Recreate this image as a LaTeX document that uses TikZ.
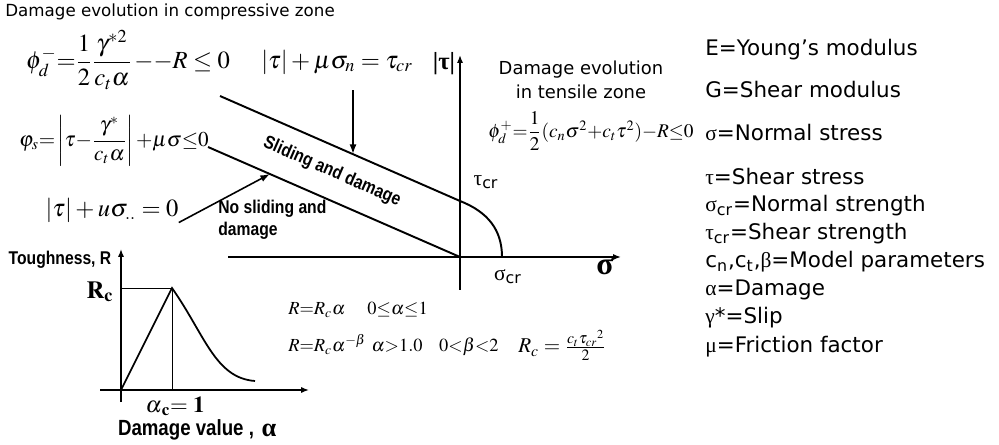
\documentclass[tikz,border=0pt]{standalone}
\usepackage{amsmath}
\usepackage{mathptmx}
\usepackage[no-math]{fontspec}
\setmainfont{Liberation Serif}
\newfontfamily\verdfont{DejaVu Sans}
\newfontfamily\grkfont{Liberation Serif}
\newfontfamily\blkfont[FakeStretch=0.85]{Liberation Sans}
\usepackage{tikz}
\usetikzlibrary{arrows.meta, positioning, calc}
\newcommand{\sbcr}{\textsubscript{cr}}

\begin{document}
\begin{tikzpicture}[x=0.02cm, y=-0.02cm]
\tikzset{
  ttl/.style={font=\verdfont\fontsize{9.5}{13.5}\selectfont,inner sep=0pt},
  leg/.style={font=\verdfont\fontsize{12.2}{14}\selectfont,anchor=west,inner sep=0pt},
  eqn/.style={font=\fontsize{14}{16}\selectfont,inner sep=0pt},
  sml/.style={font=\fontsize{10.5}{13}\selectfont,inner sep=0pt,anchor=west},
  blk/.style={font=\blkfont\bfseries\fontsize{10.5}{12.5}\selectfont,inner sep=0pt},
  ax/.style={-{Latex[length=4.5pt,width=3.5pt]},line width=1pt},
  ar/.style={-{Latex[length=5.5pt,width=4pt]},line width=0.9pt},
  bd/.style={line width=1.1pt},
  ref/.style={line width=0.5pt}
}
\useasboundingbox (0,0) rectangle (999,445);
% ---- failure surface
\coordinate (o)    at (460,257);
\coordinate (ytop) at (460,55);
\coordinate (ybot) at (460,290);
\coordinate (xl)   at (228,257);
\coordinate (xr)   at (621,257);
\coordinate (u1)   at (220,96);
\coordinate (u2)   at (460,201);
\coordinate (scr)  at (502,257);
\coordinate (l1)   at (208,147);
\coordinate (hit1) at (353,154);
\coordinate (hit2) at (270,174);
\draw[ax] (ybot) -- (ytop);
\draw[ax] (xl) -- (xr);
\draw[bd] (u1) -- (u2) .. controls (488,212) and (502,230) .. (scr);
\draw[bd] (l1) -- (o);
% ---- texts round it
\node[ttl,anchor=west] (title) at (5,12) {Damage evolution in compressive zone};
\node[eqn,font=\fontsize{14}{16}\selectfont] (phim) at (128,60)
  {$\phi_d^{-}{=}\dfrac{1}{2}\dfrac{\gamma^{*2}}{c_t\alpha}\,{-}{-}R\le 0$};
\node[eqn] (taucr) at (337,62) {$\left|\tau\right|+\mu\sigma_n=\tau_{cr}$};
\node[font=\grkfont\bfseries\fontsize{14}{16}\selectfont,inner sep=0pt] (abstau) at (444,64) {|τ|};
\node[ttl,align=center,font=\verdfont\fontsize{10.2}{13.5}\selectfont] (tens) at (581,80) {Damage evolution\\in tensile zone};
\node[eqn,font=\fontsize{11}{13}\selectfont] (phip) at (591,131)
  {$\phi_d^{+}{=}\dfrac{1}{2}(c_n\sigma^2{+}c_t\tau^2){-}R{\le}0$};
\node[eqn,font=\fontsize{12}{14}\selectfont] (phis) at (114,141)
  {$\varphi_s{=}\left|\tau{-}\dfrac{\gamma^{*}}{c_t\alpha}\right|{+}\mu\sigma{\le}0$};
\node[eqn] (zeroeq) at (112,210) {$\left|\tau\right|+u\sigma_{..}=0$};
\node[leg,anchor=center] (taulab) at (486,182) {{\grkfont τ}\sbcr};
\node[leg,anchor=center] (siglab) at (508,277) {{\grkfont σ}\sbcr};
\node[font=\grkfont\bfseries\fontsize{18}{20}\selectfont,inner sep=0pt] (sigax) at (605,266) {σ};
\node[blk,rotate=-23.6] (slide) at (332,172) {Sliding and damage};
\node[blk,anchor=north west,align=left] (nosl) at (218,200) {No sliding and\\damage};
\draw[ar,shorten <=9pt] (taucr.south -| hit1) -- (hit1);
\draw[ar] (zeroeq.south east) -- (hit2);
% ---- toughness curve
\coordinate (to)    at (121,390);
\coordinate (tytop) at (121,249);
\coordinate (tybot) at (121,402);
\coordinate (txl)   at (100,390);
\coordinate (txr)   at (309,390);
\coordinate (pk)    at (172,288);
\coordinate (tail)  at (255,381);
\draw[ax,line width=0.8pt] (tybot) -- (tytop);
\draw[ax,line width=0.8pt] (txl) -- (txr);
\draw[ref] (to |- pk) -- (pk) -- (pk |- to);
\draw[line width=1pt] (to) -- (pk) .. controls (205,335) and (215,378) .. (tail);
\node[blk] (tough) at (60,260) {Toughness, R};
\node[font=\fontsize{14}{16}\selectfont,inner sep=0pt] (rclab) at (100,292) {$\mathbf{R_c}$};
\node[font=\fontsize{13}{15}\selectfont,inner sep=0pt] (alc) at (175,406) {$\boldsymbol{\alpha}_{\mathbf{c}}\mathbf{=1}$};
\node[blk,font=\blkfont\bfseries\fontsize{12.5}{14}\selectfont] (dmgval) at (186,430) {Damage value ,};
\node[font=\grkfont\bfseries\fontsize{15}{16}\selectfont,inner sep=0pt,right=4pt of dmgval] (dmgal) {α};
\node[sml] (r1) at (288,310) {$R{=}R_c\alpha$\hspace{1.2em}$0{\le}\alpha{\le}1$};
\node[sml] (r2) at (288,345) {$R{=}R_c\alpha^{-\beta}$\hspace{0.3em}$\alpha{>}1.0$\hspace{0.9em}$0{<}\beta{<}2$};
\node[sml,font=\fontsize{12}{14}\selectfont] (rc) at (518,345) {$R_c=\frac{c_t\tau_{cr}{}^{2}}{2}$};
% ---- legend
\node[leg] (lgE)   at (705,50)  {E=Young’s modulus};
\node[leg] (lgG)   at (705,90)  {G=Shear modulus};
\node[leg] (lgsig) at (705,133) {{\grkfont σ}=Normal stress};
\node[leg] (lgtau) at (705,177) {{\grkfont τ}=Shear stress};
\node[leg] (lgscr) at (705,206) {{\grkfont σ}\sbcr=Normal strength};
\node[leg] (lgtcr) at (705,234) {{\grkfont τ}\sbcr=Shear strength};
\node[leg] (lgpar) at (705,262) {c\textsubscript{n},c\textsubscript{t},{\grkfont β}=Model parameters};
\node[leg] (lgal)  at (705,290) {{\grkfont α}=Damage};
\node[leg] (lggam) at (705,318) {{\grkfont γ}*=Slip};
\node[leg] (lgmu)  at (705,347) {{\grkfont μ}=Friction factor};
\end{tikzpicture}
\end{document}
